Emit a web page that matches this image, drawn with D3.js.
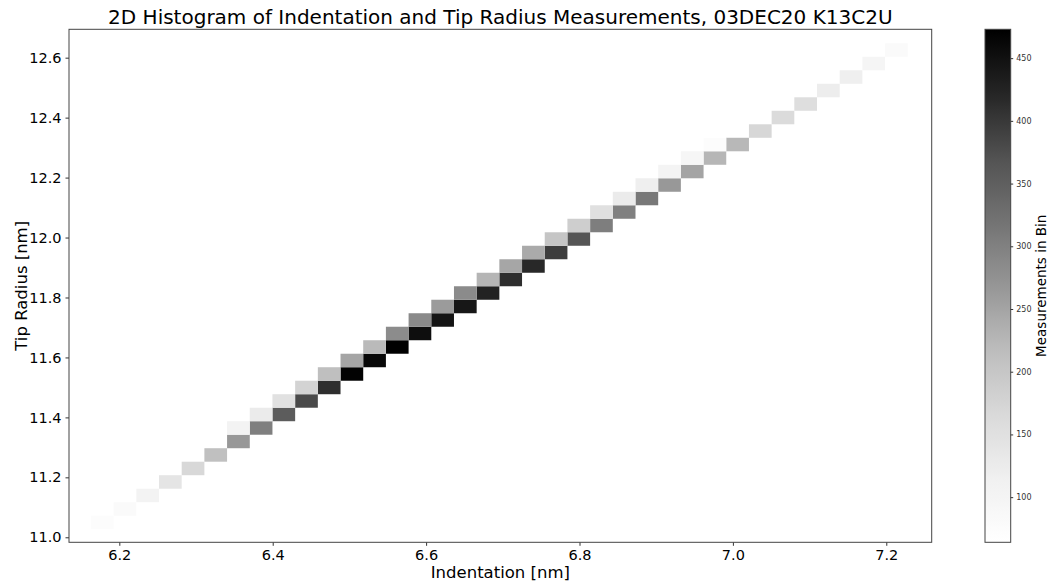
<!DOCTYPE html>
<html>
<head>
<meta charset="utf-8">
<script src="https://cdn.jsdelivr.net/npm/d3@7"></script>
<style>
    body { margin: 0; background: #fff; }
    svg { display: block; font-family: "DejaVu Sans", sans-serif; }
</style>
</head>
<body>
<svg id="chart" width="1052" height="586"></svg>
<script>
// bin layout of the 2D histogram (36 x 36 equal bins)
const nBins = 36;
const xBinRange = [6.163, 7.228];
const yBinRange = [11.027, 12.648];

// counts on the diagonal: bin (i, i)
const diagCounts = [74, 81, 105, 140, 168, 212, 266, 302, 355, 380,
    412, 470, 462, 473, 454, 445, 441, 426, 412, 418,
    395, 366, 304, 300, 312, 266, 250, 226, 224, 170,
    162, 155, 122, 118, 98, 81];

// counts just above the diagonal: bin (i, i + 1), starting at column 6
const upperStart = 6;
const upperCounts = [105, 126, 148, 177, 214, 249, 221, 283, 286, 262,
    284, 228, 248, 242, 203, 186, 151, 126, 117, 101,
    95, 74];

const xTicks = [6.2, 6.4, 6.6, 6.8, 7.0, 7.2];
const yTicks = [11.0, 11.2, 11.4, 11.6, 11.8, 12.0, 12.2, 12.4, 12.6];
const cbTicks = [100, 150, 200, 250, 300, 350, 400, 450];
const colorRange = [64, 473];

// matplotlib "Greys"
const greys = ["#ffffff", "#f0f0f0", "#d9d9d9", "#bdbdbd", "#969696",
    "#737373", "#525252", "#252525", "#000000"];

const svg = d3.select("#chart");

const plot = {left: 69, top: 29.3, right: 931.7, bottom: 542.3};

let x = d3.scaleLinear().domain([6.1344, 7.2592]).range([plot.left, plot.right]);
let y = d3.scaleLinear().domain([10.9833, 12.6947]).range([plot.bottom, plot.top]);

let color = d3.scaleLinear()
    .domain(greys.map((d, i) => colorRange[0] + i * (colorRange[1] - colorRange[0]) / (greys.length - 1)))
    .range(greys)
    .clamp(true);

let xEdges = d3.range(nBins + 1).map(i => xBinRange[0] + i * (xBinRange[1] - xBinRange[0]) / nBins);
let yEdges = d3.range(nBins + 1).map(i => yBinRange[0] + i * (yBinRange[1] - yBinRange[0]) / nBins);

// build the cell list from the two arrays
let cells = [];
diagCounts.forEach((c, i) => cells.push({col: i, row: i, count: c}));
upperCounts.forEach((c, k) => cells.push({col: upperStart + k, row: upperStart + k + 1, count: c}));

svg.append("g")
    .selectAll("rect")
    .data(cells)
    .enter()
    .append("rect")
    .attr("x", d => x(xEdges[d.col]))
    .attr("width", d => x(xEdges[d.col + 1]) - x(xEdges[d.col]))
    .attr("y", d => y(yEdges[d.row + 1]))
    .attr("height", d => y(yEdges[d.row]) - y(yEdges[d.row + 1]))
    .attr("fill", d => color(d.count));

// axes
let xAxis = svg.append("g")
    .attr("transform", "translate(0," + plot.bottom + ")")
    .call(d3.axisBottom(x).tickValues(xTicks).tickFormat(d3.format(".1f"))
        .tickSize(3.5).tickPadding(4).tickSizeOuter(0));

let yAxis = svg.append("g")
    .attr("transform", "translate(" + plot.left + ",0)")
    .call(d3.axisLeft(y).tickValues(yTicks).tickFormat(d3.format(".1f"))
        .tickSize(3.5).tickPadding(4).tickSizeOuter(0));

[xAxis, yAxis].forEach(a => {
    a.select(".domain").remove();
    a.selectAll("text").attr("font-size", "14.5px").attr("fill", "#000").style("font-family", "DejaVu Sans");
    a.selectAll("line").attr("stroke", "#333");
});

// frame
svg.append("rect")
    .attr("x", plot.left)
    .attr("y", plot.top)
    .attr("width", plot.right - plot.left)
    .attr("height", plot.bottom - plot.top)
    .attr("fill", "none")
    .attr("stroke", "#444")
    .attr("stroke-width", 1);

// title and labels
svg.append("text")
    .attr("x", (plot.left + plot.right) / 2)
    .attr("y", 24)
    .attr("text-anchor", "middle")
    .attr("font-size", "20px")
    .text("2D Histogram of Indentation and Tip Radius Measurements, 03DEC20 K13C2U");

svg.append("text")
    .attr("x", (plot.left + plot.right) / 2)
    .attr("y", 578)
    .attr("text-anchor", "middle")
    .attr("font-size", "16.5px")
    .text("Indentation [nm]");

svg.append("text")
    .attr("transform", "translate(27," + (plot.top + plot.bottom) / 2 + ") rotate(-90)")
    .attr("text-anchor", "middle")
    .attr("font-size", "16.5px")
    .text("Tip Radius [nm]");

// colorbar
const cb = {left: 985, right: 1010.7, top: plot.top, bottom: plot.bottom};
let cbScale = d3.scaleLinear().domain(colorRange).range([cb.bottom, cb.top]);

let grad = svg.append("defs")
    .append("linearGradient")
    .attr("id", "cbGrad")
    .attr("x1", 0).attr("y1", 1)
    .attr("x2", 0).attr("y2", 0);

grad.selectAll("stop")
    .data(d3.range(0, 1.0001, 0.02))
    .enter()
    .append("stop")
    .attr("offset", d => d)
    .attr("stop-color", d => color(colorRange[0] + d * (colorRange[1] - colorRange[0])));

svg.append("rect")
    .attr("x", cb.left)
    .attr("y", cb.top)
    .attr("width", cb.right - cb.left)
    .attr("height", cb.bottom - cb.top)
    .attr("fill", "url(#cbGrad)")
    .attr("stroke", "#444")
    .attr("stroke-width", 1);

let cbAxis = svg.append("g")
    .attr("transform", "translate(" + cb.right + ",0)")
    .call(d3.axisRight(cbScale).tickValues(cbTicks).tickSize(2.5).tickPadding(3).tickSizeOuter(0));

cbAxis.select(".domain").remove();
cbAxis.selectAll("text").attr("font-size", "8px").attr("fill", "#333").style("font-family", "DejaVu Sans");
cbAxis.selectAll("line").attr("stroke", "#333");

svg.append("text")
    .attr("transform", "translate(1046," + (cb.top + cb.bottom) / 2 + ") rotate(-90)")
    .attr("text-anchor", "middle")
    .attr("font-size", "13.5px")
    .text("Measurements in Bin");
</script>
</body>
</html>
